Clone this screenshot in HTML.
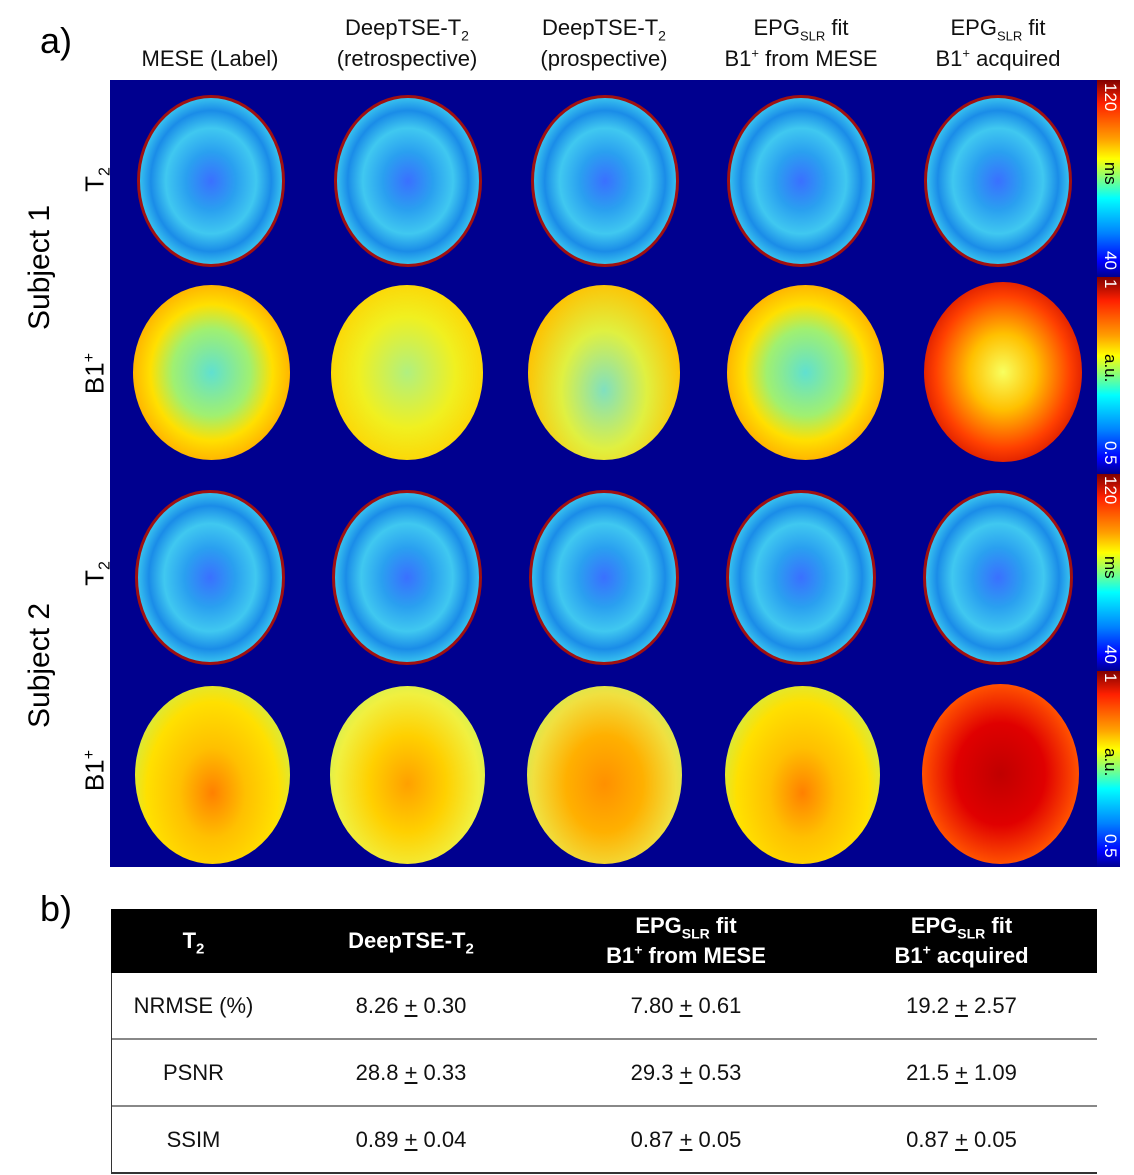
<!DOCTYPE html><html><head><style>
body{margin:0;width:1134px;height:1175px;background:#fff;position:relative;font-family:"Liberation Sans","DejaVu Sans",sans-serif;overflow:hidden}
sub,sup{line-height:0}
.a{position:absolute}
.hd{position:absolute;top:12px;width:200px;text-align:center;font-size:22px;line-height:31px;color:#111}
.br{position:absolute;border-radius:50%;box-sizing:border-box}
.t2{background:radial-gradient(ellipse at 50% 50%,#3a70ff 0%,#2aa0f0 25%,#40c8f0 45%,#1a8ce8 60%,#40d0f0 74%,#8a0000 82%,#8a0000 100%);border:3px solid #a01010}
.cb{position:absolute;left:1097px;width:23px;background:linear-gradient(#800000,#ff2000 12%,#ffa000 30%,#ffff00 40%,#00ffff 60%,#0080ff 78%,#0000ff 92%,#00008f)}
.vl{position:absolute;writing-mode:vertical-rl;font-size:17px;left:1100px}
.rl{position:absolute;transform:rotate(-90deg);transform-origin:center;font-size:26px;white-space:nowrap}
table{position:absolute;left:111px;top:909px;width:986px;border-collapse:collapse;font-size:22px}
th{background:#000;color:#fff;height:64px;padding:0;font-weight:bold;line-height:30px}
td{height:65px;padding:0;text-align:center;border-top:2px solid #888;color:#111}
</style></head><body>
<div class="a" style="left:40px;top:20px;font-size:36px">a)</div>
<div class="a" style="left:40px;top:888px;font-size:36px">b)</div>
<div class="hd" style="left:110px;top:43px">MESE (Label)</div>
<div class="hd" style="left:307px">DeepTSE-T<sub style="font-size:14px">2</sub><br>(retrospective)</div>
<div class="hd" style="left:504px">DeepTSE-T<sub style="font-size:14px">2</sub><br>(prospective)</div>
<div class="hd" style="left:701px">EPG<sub style="font-size:13px">SLR</sub> fit<br>B1<sup style="font-size:13px">+</sup> from MESE</div>
<div class="hd" style="left:898px">EPG<sub style="font-size:13px">SLR</sub> fit<br>B1<sup style="font-size:13px">+</sup> acquired</div>
<div class="a" style="left:110px;top:80px;width:987px;height:787px;background:#00008f"></div>
<div class="br t2" style="left:137px;top:95px;width:148px;height:172px"></div>
<div class="br t2" style="left:334px;top:95px;width:148px;height:172px"></div>
<div class="br t2" style="left:531px;top:95px;width:148px;height:172px"></div>
<div class="br t2" style="left:727px;top:95px;width:148px;height:172px"></div>
<div class="br t2" style="left:924px;top:95px;width:148px;height:172px"></div>
<div class="br" style="left:133px;top:285px;width:157px;height:175px;background:radial-gradient(ellipse,#60e0d0 0%,#a0f070 35%,#ffe000 55%,#ff9000 85%,#ff8000 100%)"></div>
<div class="br" style="left:331px;top:285px;width:152px;height:175px;background:radial-gradient(ellipse,#b0f080 0%,#f0f020 45%,#ffd000 80%,#ffe000 100%)"></div>
<div class="br" style="left:528px;top:285px;width:152px;height:175px;background:radial-gradient(ellipse at 50% 60%,#80e0c0 0%,#e0f040 40%,#ffc000 75%,#ffb000 100%)"></div>
<div class="br" style="left:727px;top:285px;width:157px;height:175px;background:radial-gradient(ellipse,#60e0d0 0%,#a0f070 35%,#ffe000 55%,#ff9000 85%,#ff8000 100%)"></div>
<div class="br" style="left:924px;top:282px;width:158px;height:180px;background:radial-gradient(ellipse,#f8ff60 0%,#ffc000 30%,#ff4000 60%,#c00000 85%,#ff3000 100%)"></div>
<div class="br t2" style="left:135px;top:490px;width:150px;height:175px"></div>
<div class="br t2" style="left:332px;top:490px;width:150px;height:175px"></div>
<div class="br t2" style="left:529px;top:490px;width:150px;height:175px"></div>
<div class="br t2" style="left:726px;top:490px;width:150px;height:175px"></div>
<div class="br t2" style="left:923px;top:490px;width:150px;height:175px"></div>
<div class="br" style="left:135px;top:686px;width:155px;height:178px;background:radial-gradient(ellipse at 50% 60%,#ff8000 0%,#ffc000 30%,#ffe000 60%,#c0f060 85%,#60c0f0 100%)"></div>
<div class="br" style="left:330px;top:686px;width:155px;height:178px;background:radial-gradient(ellipse at 50% 55%,#ffa000 0%,#ffd000 35%,#f0f040 65%,#c0f060 85%,#80d0e0 100%)"></div>
<div class="br" style="left:527px;top:686px;width:155px;height:178px;background:radial-gradient(ellipse at 50% 55%,#ff9000 0%,#ffb000 35%,#f0e040 65%,#c0f060 85%,#80d0e0 100%)"></div>
<div class="br" style="left:725px;top:686px;width:155px;height:178px;background:radial-gradient(ellipse at 50% 60%,#ff8000 0%,#ffc000 30%,#ffe000 60%,#c0f060 85%,#60c0f0 100%)"></div>
<div class="br" style="left:922px;top:684px;width:157px;height:180px;background:radial-gradient(ellipse,#c00000 0%,#e00000 40%,#ff5000 70%,#ffb000 90%,#80c0ff 100%)"></div>
<div class="cb" style="top:80px;height:197px"></div>
<div class="cb" style="top:277px;height:197px"></div>
<div class="cb" style="top:474px;height:197px"></div>
<div class="cb" style="top:671px;height:196px"></div>
<div class="vl" style="top:83px;color:#fff">120</div><div class="vl" style="top:162px">ms</div><div class="vl" style="top:251px;color:#fff">40</div>
<div class="vl" style="top:279px;color:#fff">1</div><div class="vl" style="top:354px">a.u.</div><div class="vl" style="top:441px;color:#fff">0.5</div>
<div class="vl" style="top:476px;color:#fff">120</div><div class="vl" style="top:556px">ms</div><div class="vl" style="top:645px;color:#fff">40</div>
<div class="vl" style="top:673px;color:#fff">1</div><div class="vl" style="top:748px">a.u.</div><div class="vl" style="top:834px;color:#fff">0.5</div>
<div class="rl" style="left:-15px;top:258px;width:110px;text-align:center;font-size:30px">Subject 1</div>
<div class="rl" style="left:-15px;top:656px;width:110px;text-align:center;font-size:30px">Subject 2</div>
<div class="rl" style="left:70px;top:164px;width:50px;text-align:center">T<sub style="font-size:16px">2</sub></div>
<div class="rl" style="left:70px;top:358px;width:50px;text-align:center">B1<sup style="font-size:16px">+</sup></div>
<div class="rl" style="left:70px;top:558px;width:50px;text-align:center">T<sub style="font-size:16px">2</sub></div>
<div class="rl" style="left:70px;top:755px;width:50px;text-align:center">B1<sup style="font-size:16px">+</sup></div>
<table>
<tr><th style="width:165px">T<sub style="font-size:15px">2</sub></th><th style="width:270px">DeepTSE-T<sub style="font-size:15px">2</sub></th><th style="width:280px">EPG<sub style="font-size:14px">SLR</sub> fit<br>B1<sup style="font-size:14px">+</sup> from MESE</th><th>EPG<sub style="font-size:14px">SLR</sub> fit<br>B1<sup style="font-size:14px">+</sup> acquired</th></tr>
<tr><td style="border-top:none">NRMSE (%)</td><td style="border-top:none">8.26 <u>+</u> 0.30</td><td style="border-top:none">7.80 <u>+</u> 0.61</td><td style="border-top:none">19.2 <u>+</u> 2.57</td></tr>
<tr><td>PSNR</td><td>28.8 <u>+</u> 0.33</td><td>29.3 <u>+</u> 0.53</td><td>21.5 <u>+</u> 1.09</td></tr>
<tr><td style="border-bottom:2px solid #333">SSIM</td><td style="border-bottom:2px solid #333">0.89 <u>+</u> 0.04</td><td style="border-bottom:2px solid #333">0.87 <u>+</u> 0.05</td><td style="border-bottom:2px solid #333">0.87 <u>+</u> 0.05</td></tr>
</table>
<div class="a" style="left:111px;top:973px;width:1px;height:200px;background:#333"></div>
</body></html>
